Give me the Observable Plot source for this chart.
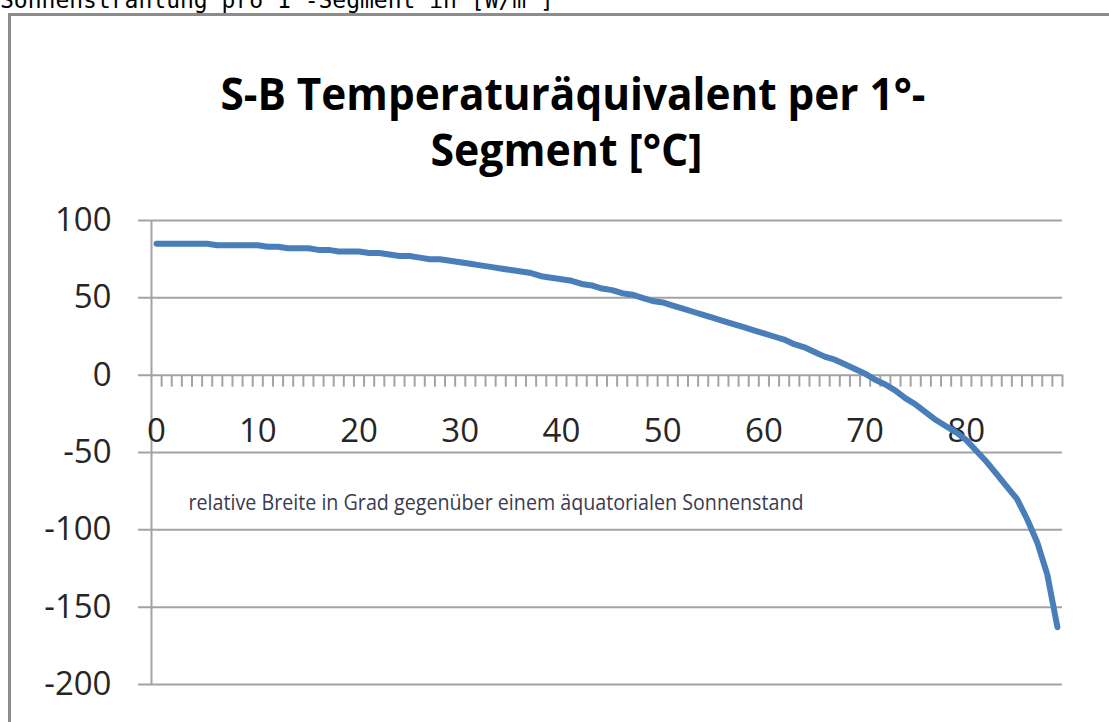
<!DOCTYPE html>
<html>
<head>
<meta charset="utf-8">
<script src="https://cdn.jsdelivr.net/npm/d3@7"></script>
<script src="https://cdn.jsdelivr.net/npm/@observablehq/plot@0.6"></script>
<style>
  html, body { margin: 0; padding: 0; background: #fff; overflow: hidden; }
  #wrap { position: relative; width: 1109px; height: 722px; overflow: hidden; }
  #topnote { position: absolute; left: 0; top: -11.5px; font: 23px/23px "DejaVu Sans Mono", monospace; color: #000; white-space: pre; }
  #frame { position: absolute; left: 8px; top: 13px; width: 1300px; height: 900px; border-left: 3px solid #8c8c8c; border-top: 3px solid #8c8c8c; pointer-events: none; z-index: 2; }
  #chart { position: absolute; left: 0; top: 0; }
</style>
</head>
<body>
<div id="wrap">
  <div id="topnote">Sonnenstrahlung pro 1°-Segment in [W/m²]</div>
  <div id="chart"></div>
  <div id="frame"></div>
</div>
<script>
// Data
const latitude = d3.range(0, 90);
const temperature = [
  85, 85, 85, 85, 85, 85, 84, 84, 84, 84,
  84, 83, 83, 82, 82, 82, 81, 81, 80, 80,
  80, 79, 79, 78, 77, 77, 76, 75, 75, 74,
  73, 72, 71, 70, 69, 68, 67, 66, 64, 63,
  62, 61, 59, 58, 56, 55, 53, 52, 50, 48,
  47, 45, 43, 41, 39, 37, 35, 33, 31, 29,
  27, 25, 23, 20, 18, 15, 12, 10, 7, 4,
  1, -3, -6, -10, -15, -19, -24, -29, -33, -37,
  -42, -49, -56, -64, -72, -80, -93, -108, -129, -163
];
const yTicks = [100, 50, 0, -50, -100, -150, -200];
const xTickLabels = [0, 10, 20, 30, 40, 50, 60, 70, 80];
const categoryBounds = d3.range(0, 91).map(i => i - 0.5);
const titleLine1 = "S-B Temperaturäquivalent per 1°-";
const titleLine2 = "Segment [°C]";
const annotation = "relative Breite in Grad gegenüber einem äquatorialen Sonnenstand";

const data = latitude.map((x, i) => ({x, y: temperature[i]}));
const gridColor = "#a3a3a3";
const font = "'Open Sans', 'Liberation Sans', sans-serif";

const chart = Plot.plot({
  width: 1109,
  height: 722,
  marginTop: 220,
  marginBottom: 38,
  marginLeft: 151,
  marginRight: 47,
  style: {fontFamily: font, fontSize: "33px", color: "#262626", background: "transparent"},
  x: {domain: [-0.5, 89.5], axis: null},
  y: {domain: [-200, 100], axis: null},
  marks: [
    // horizontal gridlines with outside tick stubs
    Plot.ruleY(yTicks, {x1: -0.5, x2: 89.5, insetLeft: -13, stroke: gridColor, strokeWidth: 2}),
    // vertical axis line
    Plot.ruleX([-0.5], {y1: -200, y2: 100, stroke: gridColor, strokeWidth: 2}),
    // minor ticks on the x axis at y = 0
    Plot.ruleX(categoryBounds.slice(1), {y1: 0, y2: 0, insetTop: 0, insetBottom: -12, stroke: gridColor, strokeWidth: 2}),
    // y tick labels
    Plot.text(yTicks, {x: -0.5, y: d => d, text: d => String(d), textAnchor: "end", dx: -40, fill: "#262626", fontSize: 33}),
    // x tick labels
    Plot.text(xTickLabels, {x: d => d, y: 0, text: d => String(d), dy: 56, fill: "#262626", fontSize: 33}),
    // annotation
    Plot.text([annotation], {frameAnchor: "top-left", textAnchor: "start", lineAnchor: "middle", dx: 37, dy: 282, text: d => d, fill: "#3b3b4f", fontSize: 22}),
    // data line
    Plot.line(data, {x: "x", y: "y", stroke: "#4a7ebb", strokeWidth: 6, strokeLinecap: "round", strokeLinejoin: "round"}),
    // title
    Plot.text([titleLine1], {frameAnchor: "top-left", textAnchor: "start", lineAnchor: "middle", dx: 69, dy: -125, text: d => d, fontWeight: "bold", fontSize: 44, fill: "#000"}),
    Plot.text([titleLine2], {frameAnchor: "top-left", textAnchor: "start", lineAnchor: "middle", dx: 279, dy: -69, text: d => d, fontWeight: "bold", fontSize: 44, fill: "#000"})
  ]
});
document.getElementById("chart").appendChild(chart);

// compress condensed text to the reference widths
const targets = new Map([[titleLine1, 705], [titleLine2, 272], [annotation, 615]]);
d3.select(chart).selectAll("text").each(function() {
  const t = this.textContent;
  if (targets.has(t)) {
    d3.select(this).attr("textLength", targets.get(t)).attr("lengthAdjust", "spacingAndGlyphs");
  }
});
</script>
</body>
</html>
